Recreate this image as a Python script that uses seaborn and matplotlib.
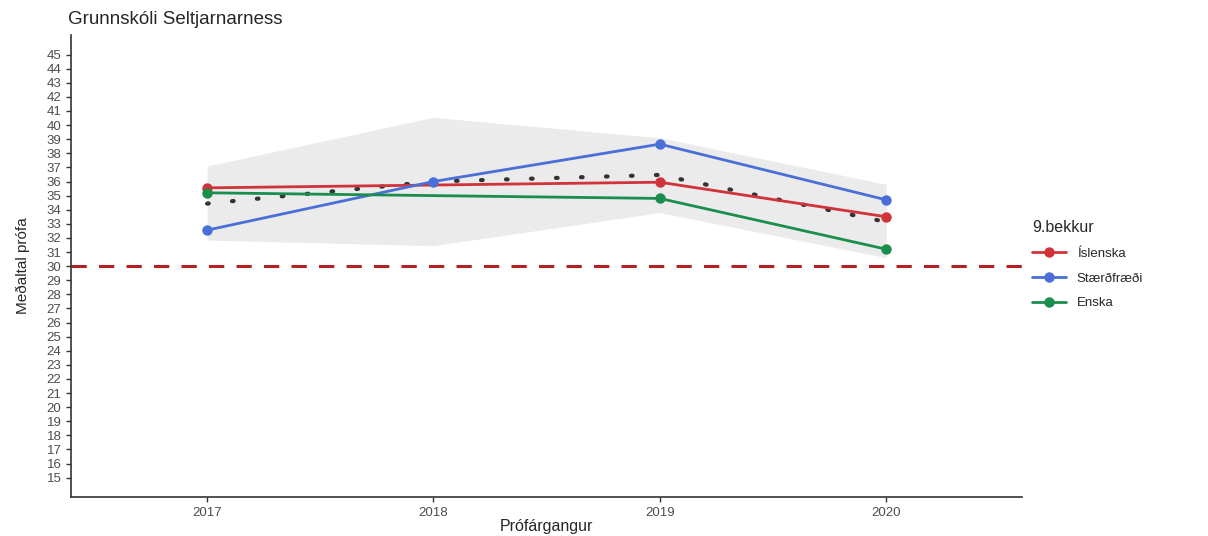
import pandas as pd
import numpy as np
import matplotlib
matplotlib.use("Agg")
import matplotlib.pyplot as plt
import seaborn as sns

years = [2017, 2018, 2019, 2020]
islenska = [35.55, np.nan, 35.95, 33.5]
staerdfraedi = [32.55, 36.0, 38.65, 34.7]
enska = [35.2, np.nan, 34.8, 31.2]
band_low = [31.85, 31.45, 33.8, 30.6]
band_high = [37.1, 40.55, 39.1, 35.8]
subjects = ["Íslenska", "Stærðfræði", "Enska"]
colors = ["#D0333A", "#4A6FD6", "#1B8E4E"]

df = pd.DataFrame({
    "Prófárgangur": years * 3,
    "Meðaltal": islenska + staerdfraedi + enska,
    "Fag": [s for s in subjects for _ in years],
})
# meðaltal allra faga per ár (punktalínan)
avg = df.groupby("Prófárgangur", as_index=False)["Meðaltal"].mean()

sns.set_style("ticks")
plt.rcParams["font.family"] = ["Liberation Sans", "DejaVu Sans"]

fig = plt.figure(figsize=(12.08, 5.36), dpi=100)
ax = fig.add_axes([0.059, 0.072, 0.787, 0.863])

ax.fill_between(years, band_low, band_high, color="#EBEBEB", lw=0, zorder=1)
ax.axhline(30, color="#B22222", lw=2.2, ls=(0, (5, 4)), zorder=2)
sns.lineplot(data=avg, x="Prófárgangur", y="Meðaltal", color="#333333",
             lw=3.0, ls=(0, (0.4, 5.6)), dash_capstyle="round", ax=ax, zorder=3)
sns.lineplot(data=df.dropna(), x="Prófárgangur", y="Meðaltal", hue="Fag",
             hue_order=subjects, palette=colors, marker="o", markersize=7.5,
             markeredgewidth=0, lw=2, ax=ax, zorder=4)

ax.set_xlim(2016.4, 2020.6)
ax.set_ylim(13.6, 46.4)
ax.set_xticks(years)
ax.set_yticks(range(15, 46))
ax.tick_params(colors="#333333", labelcolor="#4D4D4D", labelsize=9.5,
               length=3.5, width=1)
for s in ["top", "right"]:
    ax.spines[s].set_visible(False)
for s in ["left", "bottom"]:
    ax.spines[s].set_color("#333333")
    ax.spines[s].set_linewidth(1.2)

ax.set_title("Grunnskóli Seltjarnarness", loc="left", fontsize=13.5, x=-0.003,
             pad=8)
ax.set_xlabel("Prófárgangur", fontsize=11.5, labelpad=0)
ax.set_ylabel("Meðaltal prófa", fontsize=11, labelpad=12)

handles, labels = ax.get_legend_handles_labels()
ax.legend(handles[-3:], labels[-3:], title="9.bekkur", loc="upper left",
          bbox_to_anchor=(0.998, 0.625), frameon=False, fontsize=9.5,
          title_fontsize=11.5, handlelength=2.6, labelspacing=0.95,
          alignment="left")

fig.savefig("out.png", dpi=100)
